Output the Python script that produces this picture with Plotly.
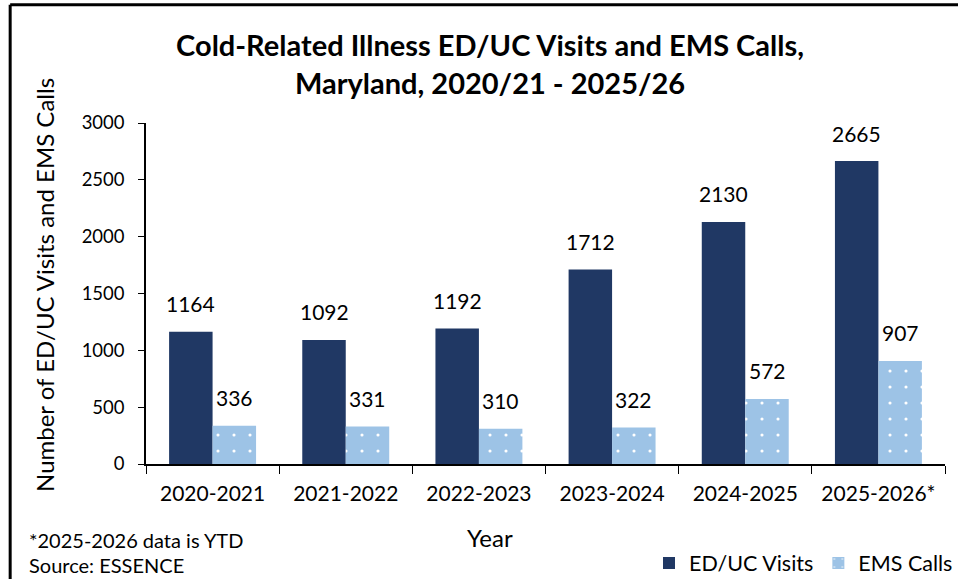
import plotly.graph_objects as go

years = ["2020-2021", "2021-2022", "2022-2023", "2023-2024", "2024-2025", "2025-2026*"]
ed_uc_visits = [1164, 1092, 1192, 1712, 2130, 2665]
ems_calls = [336, 331, 310, 322, 572, 907]
y_ticks = [0, 500, 1000, 1500, 2000, 2500, 3000]

FONT = "Lato"
NAVY = "#203864"
LIGHT = "#9DC3E6"

fig = go.Figure()
fig.add_trace(go.Bar(
    x=years, y=ed_uc_visits, name="ED/UC Visits",
    marker=dict(color=NAVY, line=dict(width=0)),
))
fig.add_trace(go.Bar(
    x=years, y=ems_calls, name="EMS Calls",
    marker=dict(color=LIGHT, line=dict(width=0),
                pattern=dict(shape=".", fgcolor="white", bgcolor=LIGHT,
                             size=16, solidity=0.03, fillmode="replace")),
))

annotations = []
for xs, vals in ((-21.75, ed_uc_visits), (21.75, ems_calls)):
    for cat, v in zip(years, vals):
        annotations.append(dict(
            x=cat, y=v, xref="x", yref="y", text=str(v), showarrow=False,
            xshift=xs, yshift=28, yanchor="middle",
            font=dict(family=FONT, size=21, color="black"),
        ))

# axis titles and notes
annotations.append(dict(x=-0.1264, y=0.525, xref="paper", yref="paper",
                        text="Number of ED/UC Visits and EMS Calls", textangle=-90,
                        showarrow=False, xanchor="center", yanchor="middle",
                        font=dict(family=FONT, size=24, color="black")))
annotations.append(dict(x=0.4305, y=-0.217, xref="paper", yref="paper", text="Year",
                        showarrow=False, yanchor="middle",
                        font=dict(family=FONT, size=24, color="black")))
annotations.append(dict(x=-0.149, y=-0.2229, xref="paper", yref="paper",
                        text="*2025-2026 data is YTD", showarrow=False,
                        xanchor="left", yanchor="middle",
                        font=dict(family=FONT, size=20, color="black")))
annotations.append(dict(x=-0.149, y=-0.2962, xref="paper", yref="paper",
                        text="Source: ESSENCE", showarrow=False,
                        xanchor="left", yanchor="middle",
                        font=dict(family=FONT, size=20, color="black")))

top_y = (123 - 4.7) / 341 + 1
border = dict(color="black", width=3)

fig.update_layout(
    width=958, height=579,
    margin=dict(l=146, r=13, t=123, b=115),
    paper_bgcolor="white", plot_bgcolor="white",
    barmode="group", bargap=0.347, bargroupgap=0,
    font=dict(family=FONT, color="black"),
    title=dict(
        text="<b>Cold-Related Illness ED/UC Visits and EMS Calls,<br>Maryland, 2020/21 - 2025/26</b>",
        x=0.5115, xanchor="center", xref="container",
        y=(579 - 56) / 579, yref="container", yanchor="middle",
        font=dict(family=FONT, size=29, color="black"),
    ),
    xaxis=dict(
        showline=True, linecolor="black", linewidth=1.5,
        ticks="outside", tickson="boundaries", ticklen=8, tickcolor="black",
        tickfont=dict(family=FONT, size=21, color="black"),
        ticklabelstandoff=10,
        showgrid=False,
    ),
    yaxis=dict(
        range=[0, 3000], tickvals=y_ticks,
        showline=True, linecolor="black", linewidth=1.5,
        ticks="outside", ticklen=6, tickcolor="black",
        tickfont=dict(family=FONT, size=18.5, color="black"),
        ticklabelstandoff=10,
        showgrid=False, zeroline=False,
    ),
    legend=dict(
        orientation="h", xref="container", yref="container",
        x=1.0, xanchor="right", y=(579 - 563) / 579, yanchor="middle",
        font=dict(family=FONT, size=21.5, color="black"),
        itemwidth=30,
    ),
    annotations=annotations,
    shapes=[
        dict(type="line", xref="paper", yref="paper",
             x0=-0.170, x1=-0.170, y0=-0.6, y1=top_y, line=border, layer="below"),
        dict(type="line", xref="paper", yref="paper",
             x0=-0.170, x1=1.2, y0=top_y, y1=top_y, line=border, layer="below"),
    ],
)

fig.write_html("out.html", config={"displayModeBar": False},
               post_script="document.body.style.margin='0px';")
